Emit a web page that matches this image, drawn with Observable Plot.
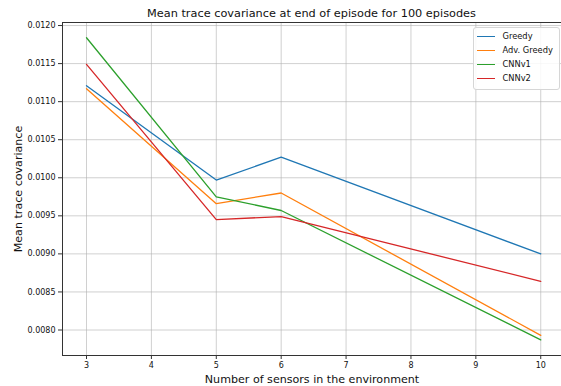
<!DOCTYPE html>
<html>
<head>
<meta charset="utf-8">
<script src="https://cdn.jsdelivr.net/npm/d3@7"></script>
<script src="https://cdn.jsdelivr.net/npm/@observablehq/plot@0.6"></script>
<style>
  html, body { margin: 0; padding: 0; background: #fff; }
  #wrap { position: relative; width: 561px; height: 386px; font-family: "DejaVu Sans", sans-serif; color: #111; }
  #title { position: absolute; left: 62px; width: 499px; top: 7px; text-align: center; font-size: 11.3px; line-height: 14px; white-space: nowrap; }
  #chart { position: absolute; left: 0; top: 20px; }
  #legend { position: absolute; left: 473px; top: 27px; width: 87px; height: 63px; box-sizing: border-box;
            background: rgba(255,255,255,0.85); border: 1px solid #d6d6d6; border-radius: 3px; font-size: 8.3px; }
  .item { position: absolute; left: 3px; height: 14px; display: flex; align-items: center; white-space: nowrap; }
  .swatch { width: 18px; height: 0; border-top: 1.4px solid; margin-right: 7.5px; }
</style>
</head>
<body>
<div id="wrap">
  <div id="title">Mean trace covariance at end of episode for 100 episodes</div>
  <div id="chart"></div>
  <div id="legend"></div>
</div>
<script>
// Number of sensors at which each method was evaluated
const sensors = [3, 5, 6, 10];

// Mean trace covariance per method
const greedy    = [0.01121, 0.00997, 0.01027, 0.00900];
const advGreedy = [0.01117, 0.00966, 0.00980, 0.00793];
const cnnv1     = [0.01184, 0.00975, 0.00957, 0.00787];
const cnnv2     = [0.01149, 0.00945, 0.00949, 0.00864];

const seriesNames = ["Greedy", "Adv. Greedy", "CNNv1", "CNNv2"];
const seriesColors = ["#1f77b4", "#ff7f0e", "#2ca02c", "#d62728"];

const xTicks = [3, 4, 5, 6, 7, 8, 9, 10];
const yTicks = [0.0080, 0.0085, 0.0090, 0.0095, 0.0100, 0.0105, 0.0110, 0.0115, 0.0120];

const allSeries = [greedy, advGreedy, cnnv1, cnnv2];
const rows = allSeries.flatMap((vals, i) =>
  vals.map((v, j) => ({ series: seriesNames[i], n: sensors[j], value: v }))
);

const gridStyle = { stroke: "#b0b0b0", strokeOpacity: 0.6, strokeWidth: 1 };

const chart = Plot.plot({
  width: 561,
  height: 366,
  marginLeft: 62,
  marginRight: 0,
  marginTop: 2,
  marginBottom: 31,
  style: { fontFamily: "DejaVu Sans, sans-serif", background: "transparent", color: "#111" },
  x: { domain: [2.63, 10.32] },
  y: { domain: [0.007665, 0.01204] },
  color: { domain: seriesNames, range: seriesColors },
  marks: [
    Plot.gridX(xTicks, gridStyle),
    Plot.gridY(yTicks, gridStyle),
    Plot.axisX(xTicks, {
      tickSize: 4, tickPadding: 3, fontSize: 8, stroke: "#333",
      label: "Number of sensors in the environment", labelAnchor: "center",
      labelArrow: "none", labelOffset: 27
    }),
    Plot.axisY(yTicks, {
      tickSize: 4, tickPadding: 3, fontSize: 8, stroke: "#333",
      tickFormat: d3.format(".4f"),
      label: "Mean trace covariance", labelAnchor: "center",
      labelArrow: "none", labelOffset: 48
    }),
    Plot.line(rows, { x: "n", y: "value", z: "series", stroke: "series", strokeWidth: 1.3 }),
    Plot.frame({ anchor: "left", stroke: "#333" }),
    Plot.frame({ anchor: "top", stroke: "#333" }),
    Plot.frame({ anchor: "bottom", stroke: "#333" })
  ]
});

// axis titles are set larger than the tick labels
chart.querySelectorAll("[aria-label='x-axis label'] text, [aria-label='y-axis label'] text")
  .forEach(t => t.setAttribute("font-size", "11.1"));

document.getElementById("chart").appendChild(chart);

// Legend in the upper right of the plot area
const legend = document.getElementById("legend");
seriesNames.forEach((name, i) => {
  const item = document.createElement("div");
  item.className = "item";
  item.style.top = (1 + i * 14) + "px";
  const sw = document.createElement("span");
  sw.className = "swatch";
  sw.style.borderColor = seriesColors[i];
  const label = document.createElement("span");
  label.textContent = name;
  item.appendChild(sw);
  item.appendChild(label);
  legend.appendChild(item);
});
</script>
</body>
</html>
